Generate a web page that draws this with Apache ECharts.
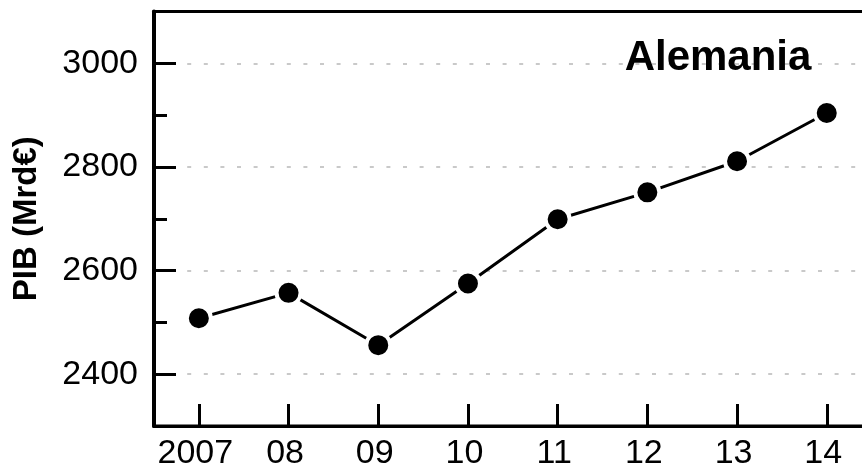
<!DOCTYPE html>
<html>
<head>
<meta charset="utf-8">
<script src="https://cdn.jsdelivr.net/npm/echarts@6/dist/echarts.min.js"></script>
<style>
  html, body { margin: 0; padding: 0; background: #fff; }
  #chart { width: 862px; height: 475px; }
</style>
</head>
<body>
<div id="chart"></div>
<script>
const categories = ['2007', '08', '09', '10', '11', '12', '13', '14'];
const gdpValues = [2508, 2557, 2456, 2575, 2699, 2751, 2811, 2904];
const yTickLabels = [2400, 2600, 2800, 3000];
const yMin = 2300;
const yMax = 3100;
const countryLabel = 'Alemania';
const yAxisTitle = 'PIB (Mrd€)';

const FONT = '"Liberation Sans", Arial, Helvetica, sans-serif';

const chart = echarts.init(document.getElementById('chart'), null, { renderer: 'canvas' });

chart.setOption({
  animation: false,
  backgroundColor: '#fff',
  grid: {
    left: 154, right: -9.6, top: 11.5, bottom: 49,
    show: true, borderColor: '#000', borderWidth: 3,
    containLabel: false, outerBoundsMode: 'none'
  },
  graphic: [{
    type: 'text',
    x: 718, y: 58.5,
    style: {
      text: countryLabel,
      font: 'bold 42px ' + FONT,
      fill: '#000',
      textAlign: 'center',
      textVerticalAlign: 'middle'
    },
    z: 10
  }],
  xAxis: {
    type: 'category',
    data: categories,
    boundaryGap: true,
    axisLine: { show: true, lineStyle: { color: '#000', width: 3 } },
    axisTick: { show: true, inside: true, alignWithLabel: true, length: 22, lineStyle: { color: '#000', width: 3 } },
    axisLabel: { interval: 0, color: '#000', fontSize: 34, fontFamily: FONT, margin: 11, padding: [0, 7, 0, 0] },
    splitLine: { show: false }
  },
  yAxis: {
    type: 'value',
    min: yMin, max: yMax, splitNumber: 4,
    position: 'left',
    name: yAxisTitle,
    nameLocation: 'middle',
    nameRotate: 90,
    nameGap: 111,
    nameTextStyle: { color: '#000', fontSize: 33, fontWeight: 'bold', fontFamily: FONT },
    axisLine: { show: true, lineStyle: { color: '#000', width: 4 } },
    axisTick: { show: true, inside: true, length: 22, lineStyle: { color: '#000', width: 3 } },
    minorTick: { show: true, splitNumber: 2, length: 13, lineStyle: { color: '#000', width: 3 } },
    axisLabel: {
      color: '#000', fontSize: 34, fontFamily: FONT, margin: 16,
      showMinLabel: false, showMaxLabel: false,
      formatter: v => (yTickLabels.indexOf(v) >= 0 ? String(v) : '')
    },
    splitLine: {
      show: true, showMinLine: false, showMaxLine: false,
      lineStyle: { color: '#b8b8b8', width: 1.5, type: [4, 12.6] }
    },
    minorSplitLine: { show: false }
  },
  series: [{
    type: 'line',
    data: gdpValues,
    symbol: 'circle',
    symbolSize: 24,
    showAllSymbol: true,
    lineStyle: { color: '#000', width: 3 },
    itemStyle: { color: '#000', borderColor: '#fff', borderWidth: 4 },
    z: 5
  }]
});
</script>
</body>
</html>
